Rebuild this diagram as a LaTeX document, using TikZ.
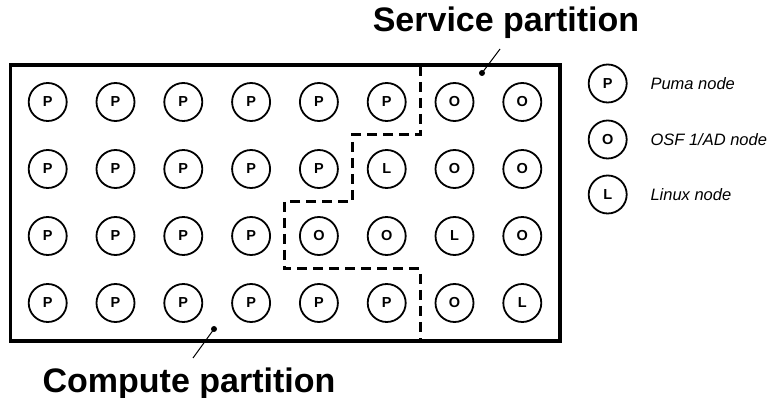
\documentclass[tikz,border=0pt]{standalone}
\usepackage{fontspec}
\setmainfont{Liberation Sans}
\begin{document}
\begin{tikzpicture}[x=1pt,y=-1pt,
  nodecirc/.style={circle,draw,line width=1.8pt,minimum size=38pt,inner sep=0pt,
    font=\fontsize{14.5}{16}\selectfont\bfseries},
  legtext/.style={anchor=west,font=\fontsize{16.5}{18}\selectfont\itshape},
  title/.style={anchor=base,font=\fontsize{34}{38}\selectfont\bfseries},
  frame/.style={line width=3.2pt},
  boundary/.style={line width=3pt,dash pattern=on 10pt off 6pt},
  leader/.style={line width=1pt}]
\useasboundingbox (0,0) rectangle (769,398);
% machine outline
\draw[frame] (10.5,65) rectangle (560,341);
% node grid
\foreach \row/\yy/\labels in {1/102/{P,P,P,P,P,P,O,O},2/169/{P,P,P,P,P,L,O,O},3/236/{P,P,P,P,O,O,L,O},4/303/{P,P,P,P,P,P,O,L}}{
  \foreach \lab [count=\col] in \labels {
    \node[nodecirc] (n-\row-\col) at ({47.7+67.8*(\col-1)},\yy) {\lab};
  }
}
% partition boundary
\draw[boundary] (420,66) -- (420,135) -- (352,135) -- (352,202) -- (284,202)
  -- (284,269) -- (420,269) -- (420,340);
% titles and leaders
\node[title] (svc) at (506,31.5) {Service partition};
\node[title] (cmp) at (189,392) {Compute partition};
\coordinate (svcdot) at (482,73);
\coordinate (svcend) at (500,49);
\coordinate (cmpdot) at (214,329);
\coordinate (cmpend) at (193,358);
\draw[leader] (svcend) -- (svcdot);
\fill (svcdot) circle (3);
\draw[leader] (cmpend) -- (cmpdot);
\fill (cmpdot) circle (3);
% legend
\node[nodecirc] (lp) at (607.7,83.5) {P};
\node[nodecirc] (lo) at (607.7,139.5) {O};
\node[nodecirc] (ll) at (607.7,194.5) {L};
\node[legtext] (tp) at (647,83.5) {Puma node};
\node[legtext] (to) at (647,139.5) {OSF 1/AD node};
\node[legtext] (tl) at (647,194.5) {Linux node};
\end{tikzpicture}
\end{document}
